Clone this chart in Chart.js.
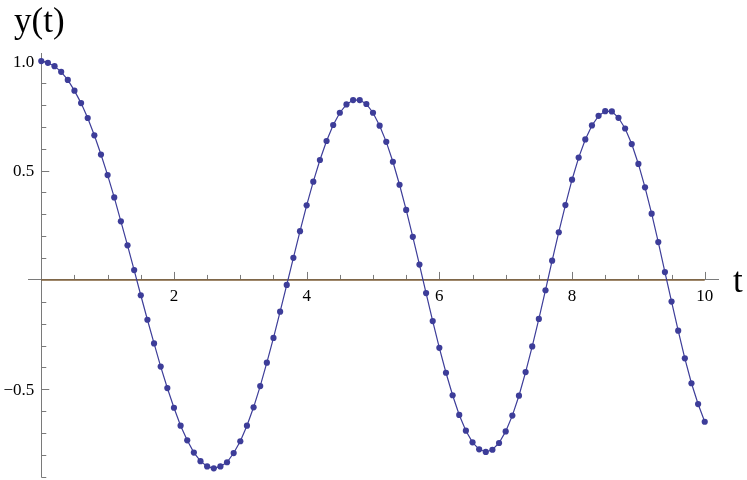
<!DOCTYPE html>
<html>
<head>
<meta charset="utf-8">
<script src="https://cdn.jsdelivr.net/npm/chart.js@4/dist/chart.umd.min.js"></script>
<style>
html,body{margin:0;padding:0;background:#fff;}
#wrap{width:747px;height:480px;}
</style>
</head>
<body>
<div id="wrap"><canvas id="c" width="747" height="480"></canvas></div>
<script>
// ---- data ----
const tValues = [0,0.1,0.2,0.3,0.4,0.5,0.6,0.7,0.8,0.9,1,1.1,1.2,1.3,1.4,1.5,1.6,1.7,1.8,1.9,2,2.1,2.2,2.3,2.4,2.5,2.6,2.7,2.8,2.9,3,3.1,3.2,3.3,3.4,3.5,3.6,3.7,3.8,3.9,4,4.1,4.2,4.3,4.4,4.5,4.6,4.7,4.8,4.9,5,5.1,5.2,5.3,5.4,5.5,5.6,5.7,5.8,5.9,6,6.1,6.2,6.3,6.4,6.5,6.6,6.7,6.8,6.9,7,7.1,7.2,7.3,7.4,7.5,7.6,7.7,7.8,7.9,8,8.1,8.2,8.3,8.4,8.5,8.6,8.7,8.8,8.9,9,9.1,9.2,9.3,9.4,9.5,9.6,9.7,9.8,9.9,10];
const yValues = [1.000,0.992,0.977,0.951,0.914,0.865,0.808,0.740,0.661,0.573,
  0.479,0.377,0.268,0.158,0.045,-0.070,-0.182,-0.290,-0.396,-0.494,
  -0.584,-0.666,-0.733,-0.789,-0.828,-0.852,-0.861,-0.852,-0.833,-0.791,
  -0.737,-0.666,-0.582,-0.485,-0.378,-0.265,-0.145,-0.023,0.101,0.223,
  0.341,0.449,0.548,0.635,0.708,0.764,0.802,0.822,0.822,0.804,
  0.764,0.705,0.631,0.540,0.435,0.320,0.197,0.070,-0.060,-0.188,
  -0.310,-0.424,-0.527,-0.617,-0.689,-0.742,-0.774,-0.786,-0.776,-0.745,
  -0.692,-0.620,-0.529,-0.421,-0.304,-0.178,-0.047,0.088,0.218,0.342,
  0.458,0.559,0.642,0.706,0.750,0.771,0.770,0.741,0.692,0.621,
  0.530,0.423,0.303,0.173,0.036,-0.099,-0.232,-0.358,-0.472,-0.567,
  -0.648];
const zeroLineT = [0, 10];
const zeroLineY = [0, 0];

const xMajorTicks = [2, 4, 6, 8, 10];
const xTickLabels = ["2", "4", "6", "8", "10"];
const xMinorTicks = [0.5, 1, 1.5, 2.5, 3, 3.5, 4.5, 5, 5.5, 6.5, 7, 7.5, 8.5, 9, 9.5];
const yMajorTicks = [-0.5, 0.5, 1.0];
const yTickLabels = ["\u22120.5", "0.5", "1.0"];
const yMinorTicks = [-0.9, -0.8, -0.7, -0.6, -0.4, -0.3, -0.2, -0.1, 0.1, 0.2, 0.3, 0.4, 0.6, 0.7, 0.8, 0.9];

const yAxisTitle = "y(t)";
const xAxisTitle = "t";

// ---- styles ----
const SERIF = "'Liberation Serif', 'DejaVu Serif', serif";
const AXIS_COLOR = "#7a7a7a";
const SERIES_COLOR = "rgb(61,61,153)";
const ZERO_COLOR = "rgb(128,96,58)";

const curve = tValues.map((t, i) => ({x: t, y: yValues[i]}));
const zeroLine = zeroLineT.map((t, i) => ({x: t, y: zeroLineY[i]}));

const tickPlugin = {
  id: 'mmaTicks',
  beforeDatasetsDraw(chart) {
    const ctx = chart.ctx;
    const xs = chart.scales.x, ys = chart.scales.y;
    const x0 = xs.getPixelForValue(0), y0 = ys.getPixelForValue(0);
    ctx.save();
    ctx.strokeStyle = AXIS_COLOR;
    ctx.lineWidth = 1;
    ctx.beginPath();
    xMinorTicks.forEach(v => { const p = Math.round(xs.getPixelForValue(v)) + 0.5; ctx.moveTo(p, y0); ctx.lineTo(p, y0 - 5); });
    xMajorTicks.forEach(v => { const p = Math.round(xs.getPixelForValue(v)) + 0.5; ctx.moveTo(p, y0); ctx.lineTo(p, y0 - 8); });
    yMinorTicks.forEach(v => { const p = Math.round(ys.getPixelForValue(v)) + 0.5; ctx.moveTo(x0, p); ctx.lineTo(x0 + 5, p); });
    yMajorTicks.forEach(v => { const p = Math.round(ys.getPixelForValue(v)) + 0.5; ctx.moveTo(x0, p); ctx.lineTo(x0 + 8, p); });
    ctx.stroke();
    // y tick labels, placed from the y scale
    ctx.fillStyle = "#000";
    ctx.font = "17px " + SERIF;
    ctx.textAlign = "right";
    ctx.textBaseline = "middle";
    yMajorTicks.forEach((v, i) => { ctx.fillText(yTickLabels[i], x0 - 7, ys.getPixelForValue(v) + 1); });
    ctx.restore();
  },
  afterDraw(chart) {
    const ctx = chart.ctx;
    ctx.save();
    ctx.fillStyle = "#000";
    ctx.font = "35px " + SERIF;
    ctx.textBaseline = "alphabetic";
    ctx.textAlign = "left";
    ctx.fillText(yAxisTitle, 14, 32);
    ctx.fillText(xAxisTitle, 733, 292);
    ctx.restore();
  }
};

new Chart(document.getElementById('c'), {
  type: 'scatter',
  data: {
    datasets: [
      {
        data: curve,
        showLine: true,
        borderColor: SERIES_COLOR,
        borderWidth: 1.2,
        pointRadius: 3.1,
        pointBackgroundColor: SERIES_COLOR,
        pointBorderWidth: 0,
        pointHoverRadius: 3.1,
        tension: 0
      },
      {
        data: zeroLine,
        showLine: true,
        borderColor: ZERO_COLOR,
        borderWidth: 1.6,
        pointRadius: 0
      }
    ]
  },
  options: {
    responsive: false,
    animation: false,
    events: [],
    layout: { padding: { left: 28, right: 29, top: 53, bottom: 1 } },
    plugins: { legend: { display: false }, tooltip: { enabled: false }, title: { display: false } },
    scales: {
      x: {
        type: 'linear',
        min: -0.2,
        max: 10.2,
        position: { y: 0 },
        grid: { display: false, drawTicks: false },
        border: { display: true, color: AXIS_COLOR, width: 1 },
        afterBuildTicks: (s) => { s.ticks = xMajorTicks.map(v => ({ value: v })); },
        afterFit: (s) => { s.height = 0; },
        ticks: {
          autoSkip: false,
          maxRotation: 0,
          padding: 6,
          color: '#000',
          font: { family: SERIF, size: 17 },
          callback: (v) => { const i = xMajorTicks.indexOf(v); return i >= 0 ? xTickLabels[i] : ''; }
        }
      },
      y: {
        type: 'linear',
        min: -0.9,
        max: 1.037,
        position: { x: 0 },
        grid: { display: false, drawTicks: false },
        border: { display: true, color: AXIS_COLOR, width: 1 },
        afterBuildTicks: (s) => { s.ticks = yMajorTicks.map(v => ({ value: v })); },
        afterFit: (s) => { s.width = 0; },
        ticks: { display: false }
      }
    }
  },
  plugins: [tickPlugin]
});
</script>
</body>
</html>
